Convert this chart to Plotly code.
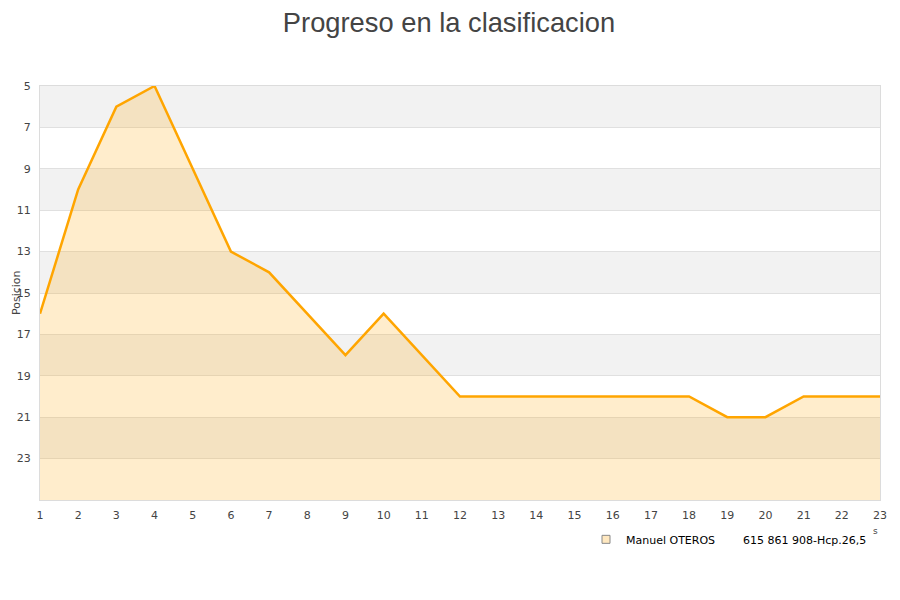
import plotly.graph_objects as go

# jornadas y posicion
jornadas = list(range(1, 24))
posicion = [16, 10, 6, 5, 9, 13, 14, 16, 18, 16, 18, 20, 20, 20, 20, 20, 20, 20, 21, 21, 20, 20, 20]
y_ticks = [5, 7, 9, 11, 13, 15, 17, 19, 21, 23]
y_min, y_max = 5, 25
jugador = "Manuel OTEROS"
info = "615 861 908-Hcp.26,5"

fig = go.Figure()

# linea base (fondo del eje invertido) para rellenar debajo de la curva
fig.add_trace(go.Scatter(x=jornadas, y=[y_max] * len(jornadas), mode="lines",
                         line={"width": 0}, showlegend=False, hoverinfo="skip"))
fig.add_trace(go.Scatter(
    x=jornadas, y=posicion, mode="lines", fill="tonexty",
    fillcolor="rgba(255,165,0,0.2)",
    line={"color": "#FFA500", "width": 2.5},
    showlegend=False,
))
# solo para la leyenda (cuadradito)
fig.add_trace(go.Scatter(
    x=[None], y=[None], mode="markers",
    marker={"symbol": "square", "size": 8, "color": "#FFE8C0",
            "line": {"color": "#888", "width": 1}},
    name=jugador + "\u00a0" * 8 + info,
))

# bandas grises alternas
for lo in y_ticks[::2]:
    fig.add_shape(type="rect", xref="paper", x0=0, x1=1, yref="y", y0=lo, y1=lo + 2,
                  fillcolor="#f2f2f2", line={"width": 0}, layer="below")

# titulo del eje Y
fig.add_annotation(text="Posicion", xref="paper", yref="paper", x=(16 - 40) / 840,
                   y=(500 - 293) / 414, showarrow=False, textangle=-90,
                   xanchor="center", yanchor="middle",
                   font={"size": 11, "color": "#444"})
fig.add_annotation(text="s", xref="paper", yref="paper", x=1.0,
                   y=-(538 - 500) / 414, showarrow=False,
                   font={"size": 9, "color": "#444"})

fig.update_layout(
    width=900, height=600,
    paper_bgcolor="white", plot_bgcolor="white",
    margin={"l": 32, "r": 28, "t": 78, "b": 108},
    title={"text": "Progreso en la clasificacion", "x": 0.49, "xanchor": "center",
           "y": 0.992, "yanchor": "top", "pad": {"t": 0},
           "font": {"family": "Liberation Sans, Arial", "size": 27.3, "color": "#444"}},
    font={"family": "DejaVu Sans", "size": 11, "color": "#444"},
    xaxis={"range": [1, 23], "tickmode": "array", "tickvals": jornadas,
           "showgrid": False, "showline": True, "linecolor": "#dcdcdc", "mirror": True,
           "zeroline": False, "ticks": "", "tickfont": {"size": 11}, "automargin": False,
           "ticklabelstandoff": 5},
    yaxis={"range": [y_max, y_min], "tickmode": "array", "tickvals": y_ticks,
           "showgrid": True, "gridcolor": "#e0e0e0", "showline": True,
           "linecolor": "#dcdcdc", "mirror": True, "zeroline": False,
           "tickfont": {"size": 11}, "automargin": False, "ticklabelstandoff": 6},
    legend={"orientation": "h", "x": (864 - 32) / 840, "xanchor": "right",
            "y": -0.06, "yanchor": "top",
            "font": {"size": 11, "color": "black"}},
    showlegend=True,
)

fig.write_html("out.html")
